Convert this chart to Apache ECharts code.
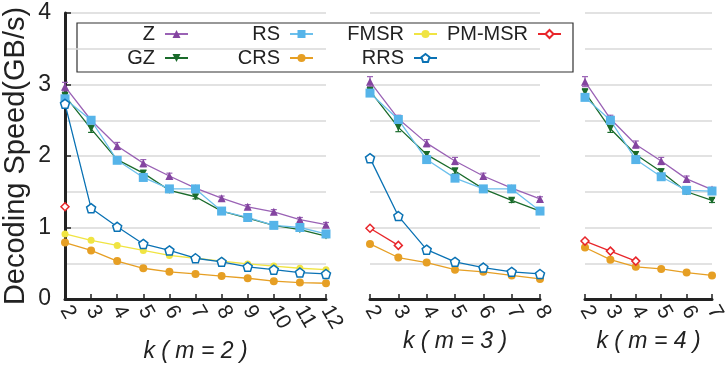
<!DOCTYPE html>
<html>
<head>
<meta charset="utf-8">
<script src="https://cdn.jsdelivr.net/npm/echarts@6/dist/echarts.min.js"></script>
<style>
  html, body { margin: 0; padding: 0; background: #fff; }
  #chart { width: 725px; height: 368px; }
</style>
</head>
<body>
<div id="chart"></div>
<script>
  // k values for each m
  const kM2 = ["2", "3", "4", "5", "6", "7", "8", "9", "10", "11", "12"];
  const kM3 = ["2", "3", "4", "5", "6", "7", "8"];
  const kM4 = ["2", "3", "4", "5", "6", "7"];
  const yTicks = [0, 1, 2, 3, 4];

  // m = 2
  const zM2 = [2.97, 2.50, 2.14, 1.90, 1.72, 1.55, 1.41, 1.29, 1.22, 1.11, 1.04];
  const gzM2 = [2.84, 2.38, 1.95, 1.76, 1.52, 1.43, 1.23, 1.13, 1.03, 0.97, 0.88];
  const rsM2 = [2.80, 2.50, 1.94, 1.70, 1.54, 1.54, 1.23, 1.14, 1.03, 1.00, 0.91];
  const crsM2 = [0.79, 0.68, 0.53, 0.43, 0.38, 0.35, 0.32, 0.29, 0.25, 0.23, 0.22];
  const fmsrM2 = [0.91, 0.82, 0.75, 0.68, 0.61, 0.57, 0.53, 0.49, 0.46, 0.43, 0.41];
  const rrsM2 = [2.73, 1.27, 1.01, 0.77, 0.68, 0.57, 0.52, 0.45, 0.41, 0.37, 0.35];
  const pmM2 = [1.29];

  // m = 3
  const zM3 = [3.04, 2.52, 2.18, 1.93, 1.72, 1.55, 1.40];
  const gzM3 = [2.91, 2.40, 2.02, 1.79, 1.54, 1.38, 1.23];
  const rsM3 = [2.88, 2.51, 1.95, 1.69, 1.54, 1.54, 1.23];
  const crsM3 = [0.77, 0.58, 0.51, 0.41, 0.38, 0.33, 0.28];
  const rrsM3 = [1.97, 1.16, 0.69, 0.52, 0.44, 0.38, 0.35];
  const pmM3 = [0.99, 0.75];

  // m = 4
  const zM4 = [3.04, 2.52, 2.16, 1.93, 1.68, 1.53];
  const gzM4 = [2.89, 2.38, 2.02, 1.78, 1.50, 1.38];
  const rsM4 = [2.82, 2.50, 1.95, 1.71, 1.52, 1.51];
  const crsM4 = [0.72, 0.55, 0.45, 0.42, 0.37, 0.33];
  const pmM4 = [0.81, 0.67, 0.53];

  // error bars (half width, estimated)
  const zErrM2 = [0.06, 0.04, 0.05, 0.05, 0.04, 0.03, 0.03, 0.03, 0.03, 0.03, 0.03];
  const gzErrM2 = [0.05, 0.05, 0.04, 0.04, 0.03, 0.03, 0.03, 0.03, 0.02, 0.02, 0.02];
  const zErrM3 = [0.07, 0.05, 0.05, 0.05, 0.04, 0.03, 0.03];
  const gzErrM3 = [0.05, 0.06, 0.04, 0.04, 0.03, 0.03, 0.03];
  const zErrM4 = [0.07, 0.05, 0.05, 0.05, 0.04, 0.03];
  const gzErrM4 = [0.05, 0.05, 0.04, 0.04, 0.03, 0.03];

  const pentagon = "path://M0,-10 L9.51,-3.09 L5.88,8.09 L-5.88,8.09 L-9.51,-3.09 Z";
  const font = "'Liberation Sans', Arial, sans-serif";

  const styles = {
    "Z":      { color: "#8445a0", line: "#9a62b5", symbol: "triangle", size: 8 },
    "GZ":     { color: "#1a6b2b", line: "#1a6b2b", symbol: "triangle", size: 7, rotate: 180 },
    "RS":     { color: "#56b4e9", line: "#6cc0ec", symbol: "rect", size: 9 },
    "CRS":    { color: "#e69f24", line: "#e69f24", symbol: "circle", size: 8 },
    "FMSR":   { color: "#f0e442", line: "#f0e442", symbol: "circle", size: 7 },
    "RRS":    { color: "#0a72b4", line: "#0a72b4", symbol: pentagon, size: 9, hollow: true },
    "PM-MSR": { color: "#e8262b", line: "#e8262b", symbol: "diamond", size: 8, hollow: true }
  };

  function makeSeries(name, data, idx) {
    let s = styles[name];
    return {
      name: name,
      type: "line",
      xAxisIndex: idx,
      yAxisIndex: idx,
      data: data,
      symbol: s.symbol,
      symbolSize: s.size,
      symbolRotate: s.rotate || 0,
      showAllSymbol: true,
      lineStyle: { color: s.line, width: 1.3 },
      itemStyle: s.hollow
        ? { color: "#fff", borderColor: s.color, borderWidth: 1.5 }
        : { color: s.color, borderWidth: 0 },
      emphasis: { disabled: true },
      z: 3,
      animation: false
    };
  }

  function makeErr(name, vals, errs, idx) {
    return {
      name: name + "-err",
      type: "custom",
      xAxisIndex: idx,
      yAxisIndex: idx,
      data: vals.map((v, i) => [i, v, errs[i]]),
      silent: true,
      z: 2,
      renderItem: function(params, api) {
        let i = api.value(0), v = api.value(1), e = api.value(2);
        let hi = api.coord([i, v + e]);
        let lo = api.coord([i, v - e]);
        let w = 3;
        let st = { stroke: styles[name].line, lineWidth: 1.2 };
        return {
          type: "group",
          children: [
            { type: "line", shape: { x1: hi[0], y1: hi[1], x2: lo[0], y2: lo[1] }, style: st },
            { type: "line", shape: { x1: hi[0] - w, y1: hi[1], x2: hi[0] + w, y2: hi[1] }, style: st },
            { type: "line", shape: { x1: lo[0] - w, y1: lo[1], x2: lo[0] + w, y2: lo[1] }, style: st }
          ]
        };
      },
      animation: false
    };
  }

  const grids = [
    { left: 65, width: 261, top: 13, height: 286, outerBoundsMode: "none" },
    { left: 370, width: 170, top: 13, height: 286, outerBoundsMode: "none" },
    { left: 585, width: 127, top: 13, height: 286, outerBoundsMode: "none" }
  ];
  const cats = [kM2, kM3, kM4];
  const xNames = ["k ( m = 2 )", "k ( m = 3 )", "k ( m = 4 )"];

  const xAxes = cats.map((c, i) => ({
    type: "category",
    gridIndex: i,
    data: c,
    boundaryGap: false,
    name: xNames[i],
    nameLocation: "middle",
    nameGap: 30,
    nameTextStyle: { fontSize: 23, fontStyle: "italic", color: "#222", fontFamily: font },
    axisLine: { show: true, lineStyle: { color: "#222", width: 3 } },
    axisTick: { show: true, inside: true, length: 5, alignWithLabel: true, lineStyle: { color: "#222", width: 1.5 } },
    axisLabel: { rotate: -60, fontSize: 21, color: "#222", margin: 8, interval: 0, fontFamily: font },
    splitLine: { show: false }
  }));

  const yAxes = grids.map((g, i) => ({
    type: "value",
    gridIndex: i,
    min: yTicks[0],
    max: yTicks[yTicks.length - 1],
    interval: 1,
    splitNumber: 2,
    name: i === 0 ? "Decoding Speed(GB/s)" : "",
    nameLocation: "middle",
    nameGap: 35,
    nameTextStyle: { fontSize: 29, color: "#222", fontFamily: font },
    axisLine: { show: i === 0, lineStyle: { color: "#222", width: 3 } },
    axisTick: { show: i === 0, inside: true, length: 6, lineStyle: { color: "#222", width: 1.5 } },
    axisLabel: { show: i === 0, fontSize: 23, color: "#222", margin: 14, fontFamily: font },
    splitLine: { show: true, lineStyle: { color: "#d9d9d9", width: 1.5 } },
    minorTick: { show: false, splitNumber: 2 },
    minorSplitLine: { show: true, lineStyle: { color: "#d9d9d9", width: 1.5 } }
  }));

  const series = [
    makeErr("Z", zM2, zErrM2, 0), makeErr("GZ", gzM2, gzErrM2, 0),
    makeErr("Z", zM3, zErrM3, 1), makeErr("GZ", gzM3, gzErrM3, 1),
    makeErr("Z", zM4, zErrM4, 2), makeErr("GZ", gzM4, gzErrM4, 2),
    makeSeries("Z", zM2, 0), makeSeries("GZ", gzM2, 0), makeSeries("RS", rsM2, 0),
    makeSeries("CRS", crsM2, 0), makeSeries("FMSR", fmsrM2, 0), makeSeries("RRS", rrsM2, 0),
    makeSeries("PM-MSR", pmM2, 0),
    makeSeries("Z", zM3, 1), makeSeries("GZ", gzM3, 1), makeSeries("RS", rsM3, 1),
    makeSeries("CRS", crsM3, 1), makeSeries("RRS", rrsM3, 1), makeSeries("PM-MSR", pmM3, 1),
    makeSeries("Z", zM4, 2), makeSeries("GZ", gzM4, 2), makeSeries("RS", rsM4, 2),
    makeSeries("CRS", crsM4, 2), makeSeries("PM-MSR", pmM4, 2)
  ];

  // legend columns: right edge of each icon
  const legendCols = [["Z", "GZ"], ["RS", "CRS"], ["FMSR", "RRS"], ["PM-MSR"]];
  const legendRights = [536, 411, 287, 163];
  const legends = legendCols.map((names, i) => ({
    data: names,
    orient: "vertical",
    align: "right",
    right: legendRights[i],
    top: 24,
    padding: 0,
    itemGap: 4,
    itemWidth: 23,
    itemHeight: 10,
    selectedMode: false,
    textStyle: { fontSize: 20, color: "#222", padding: [0, 5, 0, 0], fontFamily: font }
  }));

  let chart = echarts.init(document.getElementById("chart"));
  chart.setOption({
    animation: false,
    backgroundColor: "#fff",
    grid: grids,
    xAxis: xAxes,
    yAxis: yAxes,
    legend: legends,
    graphic: [{
      type: "rect",
      shape: { x: 77, y: 23, width: 496, height: 49 },
      style: { fill: "#fff", stroke: "#333", lineWidth: 1.2 },
      z: 0
    }],
    series: series
  });
</script>
</body>
</html>
